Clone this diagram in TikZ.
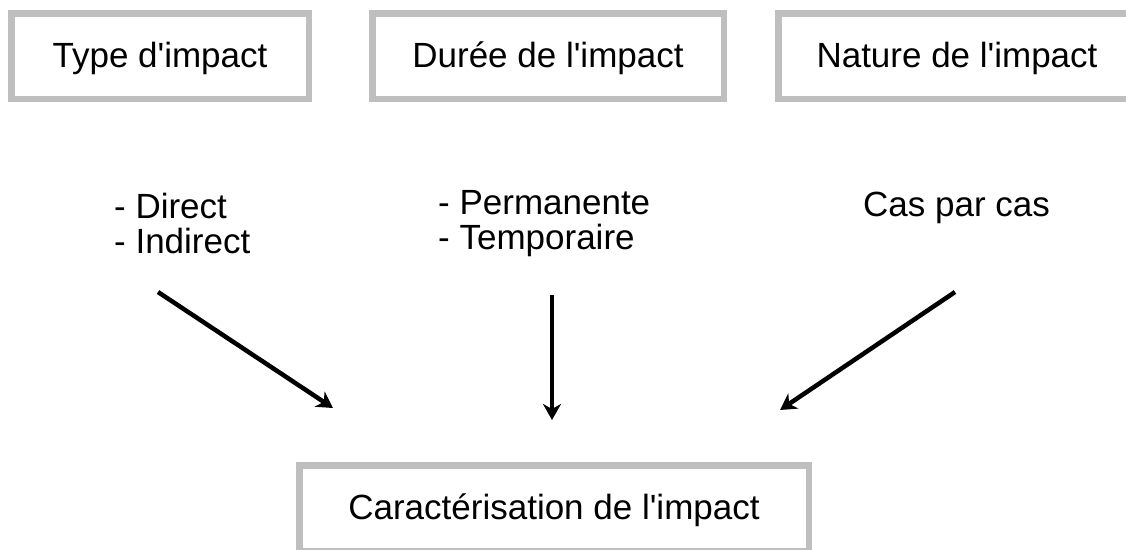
\documentclass[tikz,border=0pt]{standalone}
\usepackage{fontspec}
\setmainfont{Liberation Sans}
\usetikzlibrary{arrows.meta}

\begin{document}
\begin{tikzpicture}[x=1pt,y=-1pt,
                      every node/.style={font=\fontsize{35}{41}\selectfont,inner sep=0pt},
                      graybox/.style={draw=black!25,line width=6.5pt,text height=26pt,text depth=4pt},
                      item/.style={anchor=base west},
                      impact arrow/.style={line width=4.5pt,-{Stealth[length=16pt,width=18pt,inset=5pt]}}]

   \clip (0,0) rectangle (1126,549);
   \useasboundingbox (0,0) rectangle (1126,549);

   % top row
   \node(type)[graybox,minimum width=297.5pt,minimum height=85.5pt] at (160,56) {Type d\textquotesingle impact};
   \node(duree)[graybox,minimum width=351.5pt,minimum height=85.5pt] at (548,56) {Durée de l\textquotesingle impact};
   \node(nature)[graybox,minimum width=357.5pt,minimum height=85.5pt] at (957,56) {Nature de l\textquotesingle impact};

   % lists
   \node(direct)[item] at (114,218) {- Direct};
   \node(indirect)[item] at (114,253) {- Indirect};
   \node(perm)[item] at (438,214) {- Permanente};
   \node(temp)[item] at (438,249) {- Temporaire};
   \node(cas)[item] at (863,216) {Cas par cas};

   % result
   \node(carac)[graybox,minimum width=509.5pt,minimum height=85.5pt] at (554,508) {Caractérisation de l\textquotesingle impact};

   \coordinate (typestart) at (158,292);
   \coordinate (typeend) at (333,408);
   \coordinate (dureestart) at (552,295);
   \coordinate (dureeend) at (552,420);
   \coordinate (naturestart) at (955,292);
   \coordinate (natureend) at (780,410);

   \foreach \Arrow in {type,duree,nature} {%
     \draw[impact arrow] (\Arrow start) -- (\Arrow end);
   }
\end{tikzpicture}
\end{document}
